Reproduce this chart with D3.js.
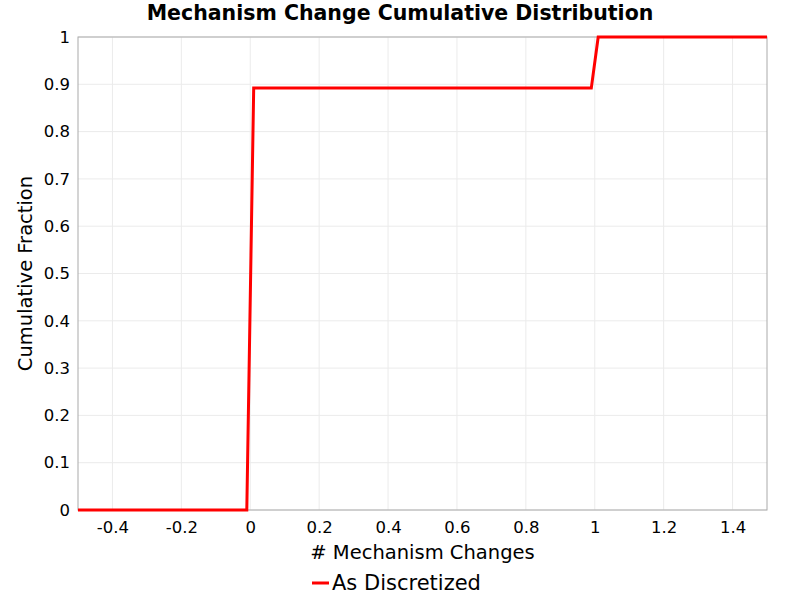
<!DOCTYPE html>
<html>
<head>
<meta charset="utf-8">
<script src="https://cdn.jsdelivr.net/npm/d3@7"></script>
<style>
  body { margin: 0; background: #fff; }
  text { font-family: "DejaVu Sans", sans-serif; }
</style>
</head>
<body>
<div id="wrapper"></div>
<script>
// data
const xValues = [-0.5, -0.01, 0.01, 0.99, 1.01, 1.5];
const yValues = [0, 0, 0.892, 0.892, 1, 1];
const xTicks = [-0.4, -0.2, 0, 0.2, 0.4, 0.6, 0.8, 1, 1.2, 1.4];
const yTicks = [0, 0.1, 0.2, 0.3, 0.4, 0.5, 0.6, 0.7, 0.8, 0.9, 1];
const seriesName = "As Discretized";

const dimensions = {
    width: 800,
    height: 600,
    margin: { top: 37, right: 33, bottom: 90, left: 78 }
};
dimensions.boundedWidth = dimensions.width - dimensions.margin.left - dimensions.margin.right;
dimensions.boundedHeight = dimensions.height - dimensions.margin.top - dimensions.margin.bottom;

const svg = d3.select("#wrapper").append("svg")
    .attr("width", dimensions.width)
    .attr("height", dimensions.height);

const bounds = svg.append("g")
    .attr("transform", `translate(${dimensions.margin.left},${dimensions.margin.top})`);

const xScale = d3.scaleLinear().domain([-0.5, 1.5]).range([0, dimensions.boundedWidth]);
const yScale = d3.scaleLinear().domain([0, 1]).range([dimensions.boundedHeight, 0]);

const fmt = d => (d === 0 || d === 1) ? String(d) : String(+d.toFixed(1));

// gridlines
bounds.append("g").selectAll("line").data(xTicks).join("line")
    .attr("x1", d => xScale(d)).attr("x2", d => xScale(d))
    .attr("y1", 0).attr("y2", dimensions.boundedHeight)
    .attr("stroke", "#ebebeb");
bounds.append("g").selectAll("line").data(yTicks).join("line")
    .attr("x1", 0).attr("x2", dimensions.boundedWidth)
    .attr("y1", d => yScale(d)).attr("y2", d => yScale(d))
    .attr("stroke", "#ebebeb");

// border
bounds.append("rect")
    .attr("width", dimensions.boundedWidth)
    .attr("height", dimensions.boundedHeight)
    .attr("fill", "none")
    .attr("stroke", "#aaaaaa");

// axes
const xAxis = bounds.append("g")
    .attr("transform", `translate(0,${dimensions.boundedHeight})`)
    .call(d3.axisBottom(xScale).tickValues(xTicks).tickFormat(fmt).tickSize(0).tickPadding(11));
const yAxis = bounds.append("g")
    .call(d3.axisLeft(yScale).tickValues(yTicks).tickFormat(fmt).tickSize(0).tickPadding(8));
[xAxis, yAxis].forEach(a => {
    a.select(".domain").remove();
    a.selectAll("text").attr("font-family", "DejaVu Sans").attr("font-size", 16.5).attr("fill", "#000");
});

// line
const points = xValues.map((x, i) => ({ x, y: yValues[i] }));
const lineGenerator = d3.line().x(d => xScale(d.x)).y(d => yScale(d.y));
bounds.append("path")
    .attr("d", lineGenerator(points))
    .attr("fill", "none")
    .attr("stroke", "#ff0000")
    .attr("stroke-width", 3);

// Labels
svg.append("text")
    .attr("x", 400).attr("y", 20)
    .attr("text-anchor", "middle")
    .attr("font-size", 20.5).attr("font-weight", "bold")
    .text("Mechanism Change Cumulative Distribution");

svg.append("text")
    .attr("x", dimensions.margin.left + dimensions.boundedWidth / 2)
    .attr("y", 559)
    .attr("text-anchor", "middle")
    .attr("font-size", 19.5)
    .text("# Mechanism Changes");

svg.append("text")
    .attr("transform", `translate(32,${dimensions.margin.top + dimensions.boundedHeight / 2}) rotate(-90)`)
    .attr("text-anchor", "middle")
    .attr("font-size", 19.5)
    .text("Cumulative Fraction");

// legend
const legend = svg.append("g").attr("transform", "translate(312,583)");
legend.append("line")
    .attr("x1", 0).attr("x2", 17)
    .attr("stroke", "#ff0000").attr("stroke-width", 3);
legend.append("text")
    .attr("x", 20).attr("y", 7)
    .attr("font-size", 21)
    .text(seriesName);
</script>
</body>
</html>
